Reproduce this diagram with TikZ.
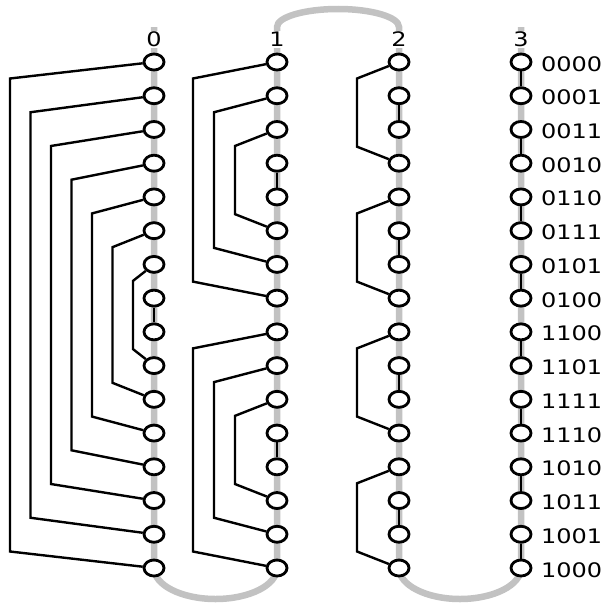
\documentclass[tikz,border=0pt]{standalone}
\usepackage{fontspec}
\newfontfamily\lblfont[FakeStretch=1.2]{DejaVu Sans}
\usetikzlibrary{shapes.geometric,backgrounds}
\begin{document}
\begin{tikzpicture}[x=1pt,y=-1pt,
  bit/.style={ellipse,draw,line width=2.8pt,fill=white,minimum width=20pt,minimum height=16pt,inner sep=0pt},
  link/.style={line width=2.4pt,line join=miter},
  chain/.style={line width=6.5pt,draw=black!24},
  digit/.style={font=\lblfont\fontsize{20}{20}\selectfont,inner sep=0pt},
  head/.style={digit,fill=white,inner sep=1pt,anchor=base}]
\useasboundingbox (0,0) rectangle (601,605);
\def\colx{{154,277,399,521}}
\foreach \c in {0,...,3}{
  \pgfmathsetmacro\xx{\colx[\c]}
  \node[head] (h\c) at (\xx,46.5) {\c};
  \foreach \r in {0,...,15}{
    \node[bit] (n\c-\r) at (\xx,62+33.733*\r) {};
  }
}
\foreach \r/\g in {0/0000,1/0001,2/0011,3/0010,4/0110,5/0111,6/0101,7/0100,
                   8/1100,9/1101,10/1111,11/1110,12/1010,13/1011,14/1001,15/1000}{
  \node[digit,anchor=base west] (g\r) at (541,71+33.733*\r) {\g};
}
\begin{pgfonlayer}{background}
  \draw[chain] (154,27) -- (154,568)
    arc[start angle=180,end angle=360,x radius=61.5pt,y radius=31pt] -- (277,27)
    arc[start angle=180,end angle=0,x radius=61pt,y radius=18pt] -- (399,568)
    arc[start angle=180,end angle=360,x radius=61pt,y radius=31pt] -- (521,27);
  % column 0
  \foreach \i in {0,...,6}{
    \pgfmathsetmacro\bx{10+20.5*\i}
    \pgfmathtruncatemacro\j{15-\i}
    \draw[link] (n0-\i) -- (\bx,62+33.733*\i+16.5) -- (\bx,62+33.733*\j-16.5) -- (n0-\j);
  }
  \draw[link] (n0-7) -- (n0-8);
  % column 1
  \foreach \b in {0,1}{
    \foreach \i in {0,1,2}{
      \pgfmathsetmacro\bx{193+21*\i}
      \pgfmathtruncatemacro\t{8*\b+\i}
      \pgfmathtruncatemacro\j{8*\b+7-\i}
      \draw[link] (n1-\t) -- (\bx,62+33.733*\t+16.5) -- (\bx,62+33.733*\j-16.5) -- (n1-\j);
    }
    \pgfmathtruncatemacro\p{8*\b+3}
    \pgfmathtruncatemacro\q{8*\b+4}
    \draw[link] (n1-\p) -- (n1-\q);
  }
  % column 2
  \foreach \b in {0,...,3}{
    \pgfmathtruncatemacro\t{4*\b}
    \pgfmathtruncatemacro\j{4*\b+3}
    \pgfmathtruncatemacro\p{4*\b+1}
    \pgfmathtruncatemacro\q{4*\b+2}
    \draw[link] (n2-\t) -- (357,62+33.733*\t+16.5) -- (357,62+33.733*\j-16.5) -- (n2-\j);
    \draw[link] (n2-\p) -- (n2-\q);
  }
  % column 3
  \foreach \b in {0,...,7}{
    \pgfmathtruncatemacro\p{2*\b}
    \pgfmathtruncatemacro\q{2*\b+1}
    \draw[link] (n3-\p) -- (n3-\q);
  }
\end{pgfonlayer}
\end{tikzpicture}
\end{document}
